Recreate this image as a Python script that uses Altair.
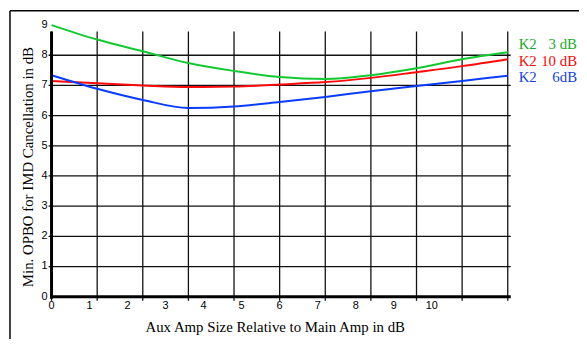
import altair as alt
import pandas as pd

# ---- data ----
x_pts = [0, 1.2, 2.4, 3.6, 4.8, 6.0, 7.2, 8.4, 9.6, 10.8, 12.0]
k2_3db = [9.0, 8.52, 8.13, 7.74, 7.48, 7.28, 7.21, 7.34, 7.57, 7.87, 8.10]
k2_10db = [7.15, 7.07, 7.0, 6.95, 6.96, 7.03, 7.11, 7.25, 7.44, 7.64, 7.87]
k2_6db = [7.34, 6.89, 6.52, 6.25, 6.30, 6.45, 6.62, 6.81, 6.98, 7.15, 7.32]

series_names = ["K2 3 dB", "K2 10 dB", "K2 6dB"]
series_left = ["K2", "K2", "K2"]
series_right = ["3 dB", "10 dB", "6dB"]
line_colors = ["#14c832", "#ff0a0a", "#0a3cff"]
text_colors = ["#1aa828", "#f00a0a", "#1440e0"]

x_grid = [0, 1.2, 2.4, 3.6, 4.8, 6.0, 7.2, 8.4, 9.6, 10.8, 12.0]
y_grid = [1, 2, 3, 4, 5, 6, 7, 8]
x_labels = [0, 1, 2, 3, 4, 5, 6, 7, 8, 9, 10]
y_labels = [0, 1, 2, 3, 4, 5, 6, 7, 8, 9]

x_title = "Aux Amp Size Relative to Main Amp in dB"
y_title = "Min. OPBO for IMD Cancellation in dB"

W, H = 461, 268
xs = alt.Scale(domain=[0, 12], nice=False, zero=False)
ys = alt.Scale(domain=[0, 268 / 30.5], nice=False, zero=False)

rows = []
for name, vals in zip(series_names, [k2_3db, k2_10db, k2_6db]):
    for xv, yv in zip(x_pts, vals):
        rows.append({"series": name, "x": xv, "y": yv})
df = pd.DataFrame(rows)

serif = "Liberation Serif"
sans = "Liberation Sans"

vgrid = alt.Chart(pd.DataFrame({"g": x_grid})).mark_rule(color="#111", strokeWidth=1.3).encode(
    x=alt.X("g:Q", scale=xs, axis=None), y=alt.value(0), y2=alt.value(H + 4))
hgrid = alt.Chart(pd.DataFrame({"g": y_grid})).mark_rule(color="#111", strokeWidth=1.3).encode(
    y=alt.Y("g:Q", scale=ys, axis=None), x=alt.value(-3), x2=alt.value(W + 3))
left_axis = alt.Chart(pd.DataFrame({"a": [0]})).mark_rule(color="#000", strokeWidth=3).encode(
    x=alt.value(0), y=alt.value(0), y2=alt.value(H + 2))
bottom_axis = alt.Chart(pd.DataFrame({"a": [0]})).mark_rule(color="#000", strokeWidth=3).encode(
    y=alt.value(H), x=alt.value(-1), x2=alt.value(W + 3))

lines = alt.Chart(df).mark_line(strokeWidth=2, interpolate="monotone", clip=False).encode(
    x=alt.X("x:Q", scale=xs, axis=None),
    y=alt.Y("y:Q", scale=ys, axis=None),
    color=alt.Color("series:N", scale=alt.Scale(domain=series_names, range=line_colors), legend=None),
)

ylab = alt.Chart(pd.DataFrame({"v": y_labels})).mark_text(
    font=sans, fontSize=11, align="right", baseline="middle", color="#000").encode(
    y=alt.Y("v:Q", scale=ys, axis=None), x=alt.value(-4), text="v:Q")
xlab = alt.Chart(pd.DataFrame({"v": x_labels})).mark_text(
    font=sans, fontSize=11, align="center", baseline="top", color="#000").encode(
    x=alt.X("v:Q", scale=xs, axis=None), y=alt.value(H + 3), text="v:Q")

xt = alt.Chart(pd.DataFrame({"t": [x_title]})).mark_text(
    font=serif, fontSize=15, align="center", baseline="alphabetic", color="#000").encode(
    x=alt.value(226), y=alt.value(304), text="t:N")
yt = alt.Chart(pd.DataFrame({"t": [y_title]})).mark_text(
    font=serif, fontSize=15, align="center", baseline="alphabetic", angle=270, color="#000").encode(
    x=alt.value(-19), y=alt.value(137), text="t:N")

leg_df = pd.DataFrame({"series": series_names, "l": series_left, "r": series_right,
                       "yy": [18, 35, 51]})
leg_color = alt.Color("series:N", scale=alt.Scale(domain=series_names, range=text_colors), legend=None)
leg_l = alt.Chart(leg_df).mark_text(font=serif, fontSize=15, align="left", baseline="alphabetic").encode(
    x=alt.value(472), y=alt.Y("yy:Q", scale=None), text="l:N", color=leg_color)
leg_r = alt.Chart(leg_df).mark_text(font=serif, fontSize=15, align="right", baseline="alphabetic").encode(
    x=alt.value(531), y=alt.Y("yy:Q", scale=None), text="r:N", color=leg_color)

frame_l = alt.Chart(pd.DataFrame({"a": [0]})).mark_rule(color="#000", strokeWidth=1.5).encode(
    x=alt.value(-42), y=alt.value(-21), y2=alt.value(320))
frame_t = alt.Chart(pd.DataFrame({"a": [0]})).mark_rule(color="#000", strokeWidth=1.5).encode(
    y=alt.value(-21), x=alt.value(-42), x2=alt.value(540))

chart = alt.layer(
    frame_l, frame_t, vgrid, hgrid, lines, left_axis, bottom_axis,
    ylab, xlab, xt, yt, leg_l, leg_r
).resolve_scale(color="independent").properties(
    width=W, height=H,
    padding={"left": 44, "top": 22, "right": 72, "bottom": 41},
    autosize=alt.AutoSizeParams(type="none"),
    background="white",
).configure_view(stroke=None)

chart.save("out.html", embed_options={"renderer": "svg", "actions": False})
